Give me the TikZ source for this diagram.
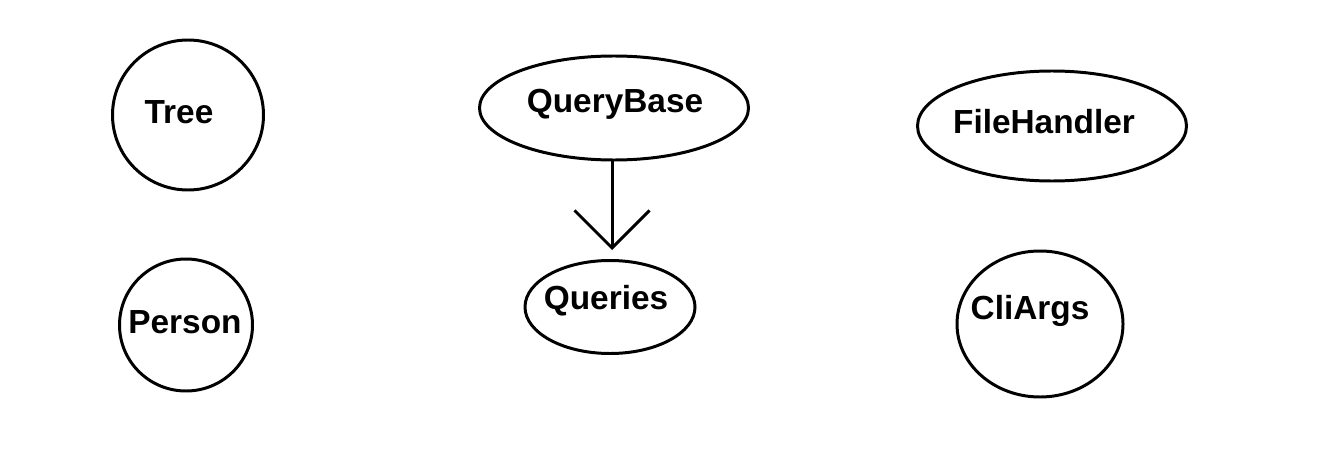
\documentclass[tikz,border=0pt]{standalone}
\usepackage{fontspec}
\setmainfont{Liberation Sans}
\usetikzlibrary{shapes.geometric,arrows.meta}
\begin{document}
\begin{tikzpicture}[x=0.02cm,y=-0.02cm,
  cls/.style={draw,ellipse,line width=1.7pt,inner sep=0pt},
  lbl/.style={font=\fontsize{19}{22}\selectfont\bfseries,inner sep=0pt}]
\useasboundingbox[fill=white] (0,0) rectangle (1331,456);
\node[cls,minimum width=151*0.02cm,minimum height=150*0.02cm] (tree) at (188,115) {};
\node[lbl] (treet) at (179,112) {Tree};
\node[cls,minimum width=133*0.02cm,minimum height=132*0.02cm] (person) at (186,325) {};
\node[lbl] (persont) at (185,322) {Person};
\node[cls,minimum width=269*0.02cm,minimum height=104*0.02cm] (qb) at (614,108) {};
\node[lbl] (qbt) at (615,104) {QueryBase};
\node[cls,minimum width=170*0.02cm,minimum height=93*0.02cm] (qs) at (610,307) {};
\node[lbl] (qst) at (606,301) {Queries};
\node[cls,minimum width=269*0.02cm,minimum height=110*0.02cm] (fh) at (1052,126) {};
\node[lbl] (fht) at (1044,122) {FileHandler};
\node[cls,minimum width=166*0.02cm,minimum height=146*0.02cm] (cli) at (1040,324) {};
\node[lbl] (clit) at (1030,311) {CliArgs};
\coordinate (tip) at (612,250);
\draw[line width=1.7pt,-{Straight Barb[length=0.75cm,width=1.5cm]}] (qb.south -| tip) -- (tip);
\end{tikzpicture}
\end{document}
